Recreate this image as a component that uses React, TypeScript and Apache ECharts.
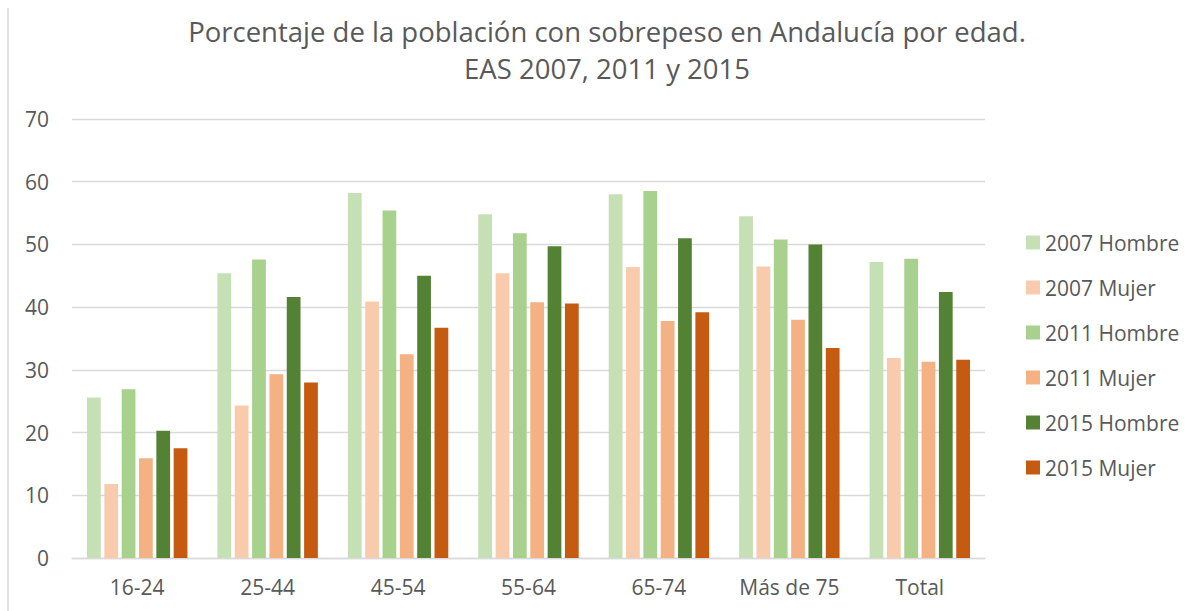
import React, { useEffect, useRef } from "react";
import * as echarts from "echarts";

const categories = ["16-24", "25-44", "45-54", "55-64", "65-74", "Más de 75", "Total"];
const seriesNames = ["2007 Hombre", "2007 Mujer", "2011 Hombre", "2011 Mujer", "2015 Hombre", "2015 Mujer"];
const h2007 = [25.6, 45.4, 58.2, 54.8, 58.0, 54.5, 47.2];
const m2007 = [11.8, 24.3, 40.9, 45.4, 46.4, 46.5, 31.9];
const h2011 = [26.9, 47.6, 55.4, 51.8, 58.5, 50.8, 47.7];
const m2011 = [15.9, 29.3, 32.5, 40.8, 37.8, 38.0, 31.3];
const h2015 = [20.3, 41.6, 45.0, 49.7, 51.0, 50.0, 42.4];
const m2015 = [17.5, 28.0, 36.7, 40.6, 39.2, 33.5, 31.6];
const seriesValues = [h2007, m2007, h2011, m2011, h2015, m2015];
const colors = ["#C5E0B4", "#F8CBAD", "#A9D18E", "#F4B183", "#548235", "#C55A11"];

const FONT = "'Open Sans', 'Noto Sans', sans-serif";

export default function App() {
  const ref = useRef<HTMLDivElement>(null);
  useEffect(() => {
    if (!ref.current) return;
    const chart = echarts.init(ref.current, undefined, { renderer: "svg" });
    chart.setOption({
      animation: false,
      backgroundColor: "#ffffff",
      title: {
        text: "Porcentaje de la población con sobrepeso en Andalucía por edad.\nEAS 2007, 2011 y 2015",
        left: 607,
        top: 13,
        padding: 0,
        textAlign: "center",
        textStyle: {
          fontFamily: FONT,
          fontSize: 27.5,
          fontWeight: "normal",
          color: "#595959",
          lineHeight: 37,
        },
      },
      legend: {
        orient: "vertical",
        left: 1026,
        top: 232,
        padding: 0,
        itemWidth: 14,
        itemHeight: 14,
        itemGap: 24,
        icon: "rect",
        data: seriesNames,
        textStyle: { fontFamily: FONT, fontSize: 21, color: "#595959", lineHeight: 21 },
      },
      grid: { left: 72, right: 209, top: 119, bottom: 53, containLabel: false },
      xAxis: {
        type: "category",
        data: categories,
        axisLine: { lineStyle: { color: "#D9D9D9", width: 1.3 } },
        axisTick: { show: false },
        axisLabel: { fontFamily: FONT, fontSize: 21, color: "#595959", margin: 18 },
      },
      yAxis: {
        type: "value",
        min: 0,
        max: 70,
        interval: 10,
        axisLine: { show: false },
        axisTick: { show: false },
        splitLine: { lineStyle: { color: "#D9D9D9", width: 1.3 } },
        axisLabel: { fontFamily: FONT, fontSize: 21, color: "#595959", margin: 23 },
      },
      series: seriesNames.map((name, i) => ({
        name,
        type: "bar",
        data: seriesValues[i],
        barGap: "26%",
        barCategoryGap: "23%",
        itemStyle: { color: colors[i] },
      })),
      graphic: [
        {
          type: "line",
          shape: { x1: 8, y1: 8, x2: 8, y2: 611 },
          style: { stroke: "#D9D9D9", lineWidth: 1.5 },
        },
      ],
    });
    return () => chart.dispose();
  }, []);
  return (
    <div
      ref={ref}
      style={{ position: "absolute", left: 0, top: 0, width: 1194, height: 611 }}
    />
  );
}
